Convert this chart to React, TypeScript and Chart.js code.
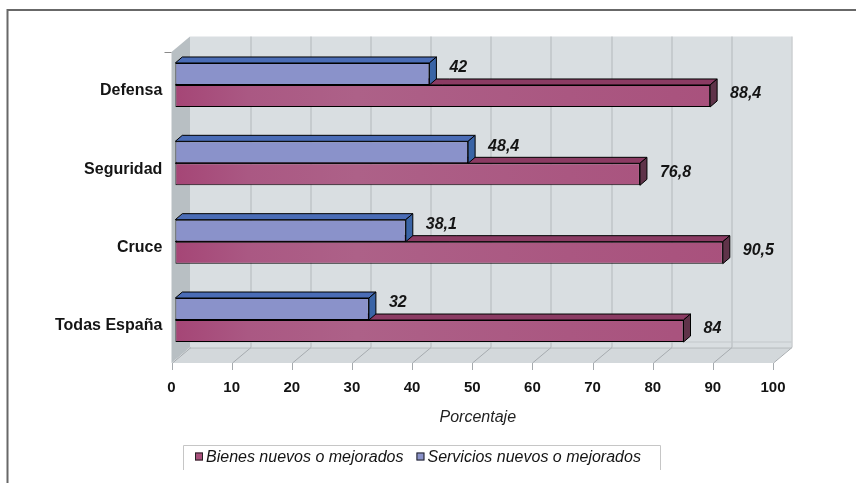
import { useEffect, useRef } from 'react';
import { Chart, registerables } from 'chart.js';

Chart.register(...registerables);

// ---- data ----
const categories = ['Defensa', 'Seguridad', 'Cruce', 'Todas España'];
const bienes = [88.4, 76.8, 90.5, 84];
const servicios = [42, 48.4, 38.1, 32];
const xTickValues = [0, 10, 20, 30, 40, 50, 60, 70, 80, 90, 100];
const seriesNames = ['Bienes nuevos o mejorados', 'Servicios nuevos o mejorados'];
const axisTitle = 'Porcentaje';

// ---- styles ----
const W = 856;
const H = 483;
const FONT = '"Liberation Sans", Arial, Helvetica, sans-serif';
const TEXT = '#141414';
const BLUE = { front: '#8a92ca', top: '#4a6cb6', side: '#3a64a6' };
const PINK = { front: '#a84f7b', top: '#8b3b63', side: '#5f3349' };
const WALL = { back: '#d9dee1', left: '#b8bfc3', floor: '#d3d8db', grid: '#b3b8bb', floorGrid: '#a6abaf' };
const WALL_DEPTH = { dx: 18.5, dy: -15.5 };
const BAR_DEPTH = { dx: 7, dy: -6 };
// front plane of the box relative to the plotting area
const FRONT_INSET = { top: 6.2, bottom: 3.8 };
// value labels: horizontal gap after the bar, vertical shift per dataset
const LABEL_GAP = 13;
const LABEL_DY = [-6, -2];
const LEGEND_BOX = { left: 183, top: 445, right: 660, bottom: 470 };

const fmt = (v: number) => String(v).replace('.', ',');

type Pt = [number, number];
function poly(ctx: CanvasRenderingContext2D, pts: Pt[], fill: string, stroke?: string) {
  ctx.beginPath();
  ctx.moveTo(pts[0][0], pts[0][1]);
  for (let i = 1; i < pts.length; i++) ctx.lineTo(pts[i][0], pts[i][1]);
  ctx.closePath();
  ctx.fillStyle = fill;
  ctx.fill();
  if (stroke) {
    ctx.strokeStyle = stroke;
    ctx.lineWidth = 1;
    ctx.stroke();
  }
}

const faceStyles = [BLUE, PINK];

const scenePlugin = {
  id: 'scene3d',
  beforeDraw(chart: any) {
    const { ctx, chartArea: area } = chart;
    const front = chart.scales.xFront;
    ctx.save();
    ctx.fillStyle = '#ffffff';
    ctx.fillRect(0, 0, W, H);

    // page frame
    ctx.strokeStyle = '#686868';
    ctx.lineWidth = 2;
    ctx.beginPath();
    ctx.moveTo(7.5, H);
    ctx.lineTo(7.5, 10);
    ctx.lineTo(W, 10);
    ctx.stroke();

    const x0 = front.getPixelForValue(xTickValues[0]);
    const x1 = front.getPixelForValue(xTickValues[xTickValues.length - 1]);
    const top = area.top + FRONT_INSET.top;
    const bottom = area.bottom + FRONT_INSET.bottom;
    const { dx, dy } = WALL_DEPTH;

    // walls and floor
    ctx.fillStyle = WALL.back;
    ctx.fillRect(x0 + dx, top + dy, x1 - x0, bottom - top);
    poly(ctx, [[x0, top], [x0 + dx, top + dy], [x0 + dx, bottom + dy], [x0, bottom]], WALL.left);
    poly(ctx, [[x0, bottom], [x0 + dx, bottom + dy], [x1 + dx, bottom + dy], [x1, bottom]], WALL.floor);

    // back wall grid, floor grid, tick marks
    ctx.lineWidth = 1;
    xTickValues.forEach((v, i) => {
      const px = Math.round(front.getPixelForValue(v)) + 0.5;
      if (i > 0) {
        ctx.strokeStyle = WALL.grid;
        ctx.beginPath();
        ctx.moveTo(px + dx, top + dy);
        ctx.lineTo(px + dx, bottom + dy);
        ctx.stroke();
      }
      ctx.strokeStyle = WALL.floorGrid;
      ctx.beginPath();
      ctx.moveTo(px, bottom);
      ctx.lineTo(px + dx, bottom + dy);
      ctx.stroke();
      ctx.beginPath();
      ctx.moveTo(px, bottom);
      ctx.lineTo(px, bottom + 7);
      ctx.stroke();
    });

    // wall base line and floor edges
    ctx.strokeStyle = '#c3c8cb';
    ctx.beginPath();
    ctx.moveTo(x0 + dx, bottom + dy - 5.5);
    ctx.lineTo(x1 + dx, bottom + dy - 5.5);
    ctx.stroke();
    ctx.strokeStyle = WALL.grid;
    ctx.beginPath();
    ctx.moveTo(x0 + dx, bottom + dy + 0.5);
    ctx.lineTo(x1 + dx, bottom + dy + 0.5);
    ctx.stroke();

    // top tick of the category axis
    ctx.strokeStyle = '#8a8a8a';
    ctx.beginPath();
    ctx.moveTo(x0 - 7, top + 0.5);
    ctx.lineTo(x0, top + 0.5);
    ctx.stroke();
    ctx.restore();
  },
  beforeDatasetsDraw(chart: any) {
    const { ctx } = chart;
    const { dx, dy } = BAR_DEPTH;
    ctx.save();
    for (let di = chart.data.datasets.length - 1; di >= 0; di--) {
      const meta = chart.getDatasetMeta(di);
      const st = faceStyles[di];
      meta.data.forEach((el: any) => {
        const { x, y, base, height } = el.getProps(['x', 'y', 'base', 'height'], true);
        const t = y - height / 2;
        const b = y + height / 2;
        poly(ctx, [[base, t], [base + dx, t + dy], [x + dx, t + dy], [x, t]], st.top, '#000');
        poly(ctx, [[x, t], [x + dx, t + dy], [x + dx, b + dy], [x, b]], st.side, '#000');
      });
    }
    ctx.restore();
  },
  afterDatasetsDraw(chart: any) {
    const { ctx } = chart;
    ctx.save();
    ctx.font = `italic bold 16px ${FONT}`;
    ctx.fillStyle = TEXT;
    ctx.textAlign = 'left';
    ctx.textBaseline = 'middle';
    chart.data.datasets.forEach((ds: any, di: number) => {
      const meta = chart.getDatasetMeta(di);
      meta.data.forEach((el: any, j: number) => {
        const { x, y } = el.getProps(['x', 'y'], true);
        ctx.fillText(fmt(ds.data[j]), x + BAR_DEPTH.dx + LABEL_GAP, y + LABEL_DY[di]);
      });
    });
    ctx.restore();
  },
  afterDraw(chart: any) {
    const { ctx } = chart;
    const { left, top, right, bottom } = LEGEND_BOX;
    ctx.save();
    ctx.strokeStyle = '#c6c6c6';
    ctx.lineWidth = 1;
    ctx.beginPath();
    ctx.moveTo(left + 0.5, bottom);
    ctx.lineTo(left + 0.5, top + 0.5);
    ctx.lineTo(right + 0.5, top + 0.5);
    ctx.lineTo(right + 0.5, bottom);
    ctx.stroke();

    ctx.font = `italic 16px ${FONT}`;
    ctx.textBaseline = 'middle';
    ctx.textAlign = 'left';
    const cy = top + 11.5;
    let x = left + 12;
    // legend lists the series from the last dataset to the first
    for (let di = chart.data.datasets.length - 1; di >= 0; di--) {
      const ds = chart.data.datasets[di];
      ctx.fillStyle = faceStyles[di].front;
      ctx.fillRect(x, cy - 4, 8, 8);
      ctx.strokeStyle = '#222';
      ctx.strokeRect(x + 0.5, cy - 3.5, 7, 7);
      ctx.fillStyle = TEXT;
      ctx.fillText(ds.label, x + 11, cy + 1);
      x += 11 + ctx.measureText(ds.label).width + 13;
    }
    ctx.restore();
  },
};

function pinkFill(c: any) {
  const { chart } = c;
  const area = chart.chartArea;
  if (!area) return PINK.front;
  const g = chart.ctx.createLinearGradient(area.left, 0, area.right, 0);
  g.addColorStop(0, '#a54676');
  g.addColorStop(0.12, '#aa5883');
  g.addColorStop(0.3, '#ad6188');
  g.addColorStop(0.65, '#aa5781');
  g.addColorStop(1, '#a84f7b');
  return g;
}

export default function App() {
  const ref = useRef<HTMLCanvasElement | null>(null);

  useEffect(() => {
    if (!ref.current) return;
    const barCommon = {
      borderColor: '#000',
      borderWidth: 1,
      borderSkipped: false as const,
      categoryPercentage: 0.5617,
      barPercentage: 1,
    };
    const chart = new Chart(ref.current, {
      type: 'bar',
      data: {
        labels: categories,
        datasets: [
          { ...barCommon, label: seriesNames[1], data: servicios, backgroundColor: BLUE.front },
          { ...barCommon, label: seriesNames[0], data: bienes, backgroundColor: pinkFill as any },
        ],
      },
      options: {
        indexAxis: 'y',
        responsive: false,
        animation: false,
        devicePixelRatio: 1,
        layout: { padding: { left: 0, top: 45.8, right: 75.7, bottom: 48.8 } },
        plugins: {
          legend: { display: false },
          tooltip: { enabled: false },
        },
        scales: {
          x: { type: 'linear', display: false, min: 0, max: 100 },
          xFront: {
            type: 'linear',
            axis: 'x',
            position: 'bottom',
            min: 0.63,
            max: 101.21,
            afterBuildTicks: (s: any) => {
              s.ticks = xTickValues.map((v) => ({ value: v }));
            },
            afterFit: (s: any) => {
              s.height = 75;
            },
            grid: { display: false, drawTicks: false },
            border: { display: false },
            ticks: {
              autoSkip: false,
              maxRotation: 0,
              padding: 20,
              color: TEXT,
              font: { family: FONT, size: 15, weight: 'bold' },
              callback: (v: any) => String(v),
            },
            title: {
              display: true,
              text: axisTitle,
              color: '#222',
              font: { family: FONT, size: 16, style: 'italic' },
              padding: { top: 0, bottom: 6.6 },
            },
          },
          y: {
            type: 'category',
            afterFit: (s: any) => {
              s.width = 175.3;
            },
            grid: { display: false, drawTicks: false },
            border: { display: false },
            ticks: {
              padding: 13,
              labelOffset: 6,
              color: TEXT,
              font: { family: FONT, size: 16, weight: 'bold' },
            },
          },
        },
      } as any,
      plugins: [scenePlugin],
    });
    return () => chart.destroy();
  }, []);

  return (
    <div style={{ position: 'absolute', left: 0, top: 0, width: W, height: H }}>
      <canvas ref={ref} width={W} height={H} style={{ display: 'block', width: W, height: H }} />
    </div>
  );
}
